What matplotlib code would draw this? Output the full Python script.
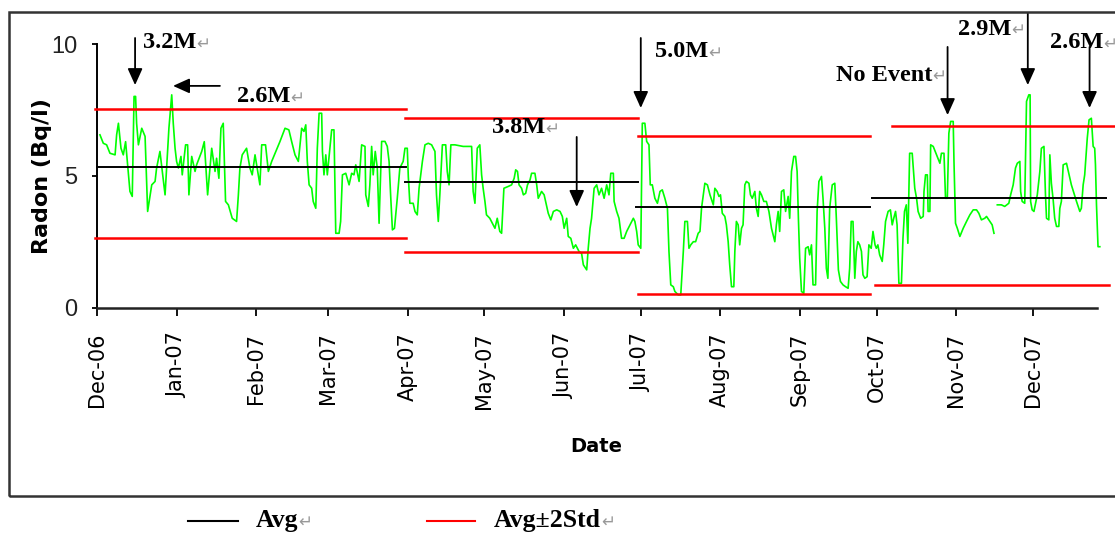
import matplotlib.pyplot as plt
import numpy as np
import pandas as pd
from matplotlib.lines import Line2D
from matplotlib.patches import Rectangle

START = pd.Timestamp("2006-12-01")

# radon readings, x = days since 1 Dec 2006, y = Bq/l
q1_days = [1.0, 2.3, 3.6, 4.9, 6.9, 7.5, 8.2, 9.2, 10.1, 11.0, 11.8, 12.7, 13.6, 14.3, 14.9,
           15.3, 16.0, 17.3, 18.6, 19.6, 21.2, 22.5, 23.1, 24.4, 26.4, 27.0, 27.9, 29.0, 29.6, 30.3,
           30.9, 31.6, 32.6, 33.1, 34.4, 35.2, 35.7, 36.8, 38.1, 38.7, 40.7, 41.7, 43.0, 44.6, 45.9,
           46.5, 47.4, 48.2, 49.1, 50.0, 51.1, 52.6, 54.3, 55.0, 55.6, 56.5, 58.2, 59.5, 60.4, 61.5,
           63.4, 64.1, 65.6, 66.7, 68.0, 71.2, 73.2, 74.7, 75.8, 77.1, 78.4,
           79.7, 80.6, 81.3, 81.9, 82.6, 83.6, 84.2, 85.2, 85.8, 86.5, 87.5, 87.8, 88.4, 89.1, 89.7,
           90.7, 91.4, 92.3, 93.0, 94.3, 94.9, 95.6, 96.9, 98.2, 99.2, 100.1, 100.8, 102.1, 103.1,
           104.4, 104.7, 105.7, 106.3, 107.0, 107.6, 108.4, 109.2, 109.9, 110.9, 112.2, 113.1, 113.8,
           114.4, 115.1, 115.9, 117.0, 118.0, 119.3]
q1_radon = [6.56, 6.24, 6.18, 5.86, 5.80, 6.56, 7.0, 6.05, 5.80, 6.3, 5.42, 4.41, 4.22, 8.02, 8.02,
            7.0, 6.18, 6.81, 6.5, 3.65, 4.66, 4.79, 5.3, 5.93, 4.28, 5.3, 6.81, 8.08, 7.0, 6.05,
            5.55, 5.3, 5.74, 5.04, 6.18, 6.18, 4.28, 5.74, 5.17, 5.42, 5.93, 6.3, 4.28, 6.05, 5.17,
            5.67, 4.91, 6.81, 7.0, 4.03, 3.9, 3.39, 3.27, 4.28, 5.3, 5.8, 6.05, 5.3, 5.04, 5.80,
            4.66, 6.18, 6.18, 5.17, 5.55, 6.3, 6.81, 6.75, 6.3, 5.80, 5.55,
            6.81, 6.69, 6.94, 5.55, 4.66, 4.53, 4.03, 3.77, 6.05, 7.38, 7.38, 5.93, 5.04, 5.80, 5.04,
            6.05, 6.75, 6.75, 2.82, 2.82, 3.27, 5.04, 5.10, 4.66, 5.10, 5.04, 5.42, 4.79, 6.18,
            6.12, 4.28, 3.84, 4.66, 6.12, 5.04, 5.93, 5.30, 3.20, 6.31, 6.31, 6.12, 5.55,
            4.28, 2.95, 3.01, 4.15, 5.30, 5.55]

q2_days = [120.0, 120.9, 121.3, 121.9, 123.2, 123.9, 124.8, 125.5, 126.8, 127.8, 129.1, 130.4,
           131.7, 132.3, 133.0, 133.6, 134.6, 135.9, 136.5, 137.2, 137.9, 139.5, 142.7, 146.0,
           146.6, 147.3, 148.2, 149.2, 149.9, 150.5, 151.2, 151.8, 153.1, 154.1, 155.1, 156.0,
           157.0, 157.7, 158.6, 160.3, 161.6, 162.6, 163.2, 163.9, 164.5, 165.5, 166.2, 167.1,
           167.8, 168.8, 169.4, 170.7, 171.4, 172.0, 173.3, 174.3, 175.3, 175.9, 176.9, 177.9,
           179.2, 180.5, 181.4, 182.1, 183.1, 183.7, 184.7, 185.7, 186.6, 187.9, 188.9, 189.6,
           190.9, 191.5, 192.2, 192.8, 193.8, 194.8, 195.7, 196.7, 197.7, 198.7, 199.6, 200.3,
           201.3, 201.6, 202.6, 203.5, 204.5, 205.5, 206.5, 207.8, 209.1, 209.7, 210.4, 211.0, 212.0]
q2_radon = [6.05, 6.05, 4.98, 3.96, 3.96, 3.65, 3.52, 4.53, 5.55, 6.18, 6.24, 6.18,
            5.93, 4.28, 3.27, 4.28, 6.18, 6.18, 5.17, 4.66, 6.18, 6.18, 6.12, 6.12,
            4.41, 3.96, 6.05, 6.18, 5.04, 4.53, 4.03, 3.52, 3.39, 3.20, 3.01, 3.39,
            2.89, 2.82, 4.53, 4.60, 4.66, 4.91, 5.23, 5.17, 4.66, 4.53, 4.28, 4.34,
            4.66, 4.85, 5.10, 5.10, 4.66, 4.15, 4.41, 4.28, 3.84, 3.58, 3.33, 3.65,
            3.71, 3.65, 3.46, 3.01, 3.39, 2.70, 2.63, 2.25, 2.38, 2.13, 2.06, 1.62,
            1.43, 2.25, 3.01, 3.39, 4.53, 4.66, 4.28, 4.53, 4.15, 4.66, 4.28, 5.10,
            5.10, 4.03, 3.65, 3.39, 2.63, 2.63, 2.89, 3.14, 3.39, 3.27, 2.89, 2.38, 2.25]

q3_days = [212.6, 213.6, 214.3, 215.2, 215.7, 216.5, 217.5, 218.5, 219.5, 220.4, 221.4, 222.4,
           223.0, 223.7, 224.7, 225.3, 226.6, 227.6, 228.6, 229.2, 230.2, 230.8, 231.5, 232.5,
           233.4, 234.4, 235.1, 235.7, 236.4, 237.0, 238.0, 239.0, 240.3, 240.9, 241.8, 242.5,
           243.1, 243.8, 244.8, 245.4, 246.1, 246.7, 247.4, 248.3, 248.7, 249.3, 250.0, 250.6,
           251.3, 251.9, 252.6, 253.2, 254.2, 254.8, 255.5, 256.5, 257.1, 257.8, 258.4, 259.1,
           260.0, 261.0, 262.0, 263.0, 264.3, 264.9, 265.6, 266.2, 266.9, 267.8, 268.5, 269.5,
           270.1, 270.8, 271.7, 272.4, 273.0, 273.5, 274.0, 274.7, 275.6, 276.3, 277.3, 277.9,
           278.6, 279.2, 280.2, 280.8, 281.5, 282.5, 283.1, 283.8, 284.4, 285.0, 285.7, 286.7,
           287.7, 288.3, 289.1, 289.9, 290.9, 291.9, 292.9, 293.5, 294.1, 294.8, 295.5, 296.1,
           296.7, 297.4, 298.1, 298.7, 299.4, 300.3, 301.0, 301.9, 302.6]
q3_radon = [7.0, 7.0, 6.31, 6.18, 4.66, 4.66, 4.15, 3.96, 4.41, 4.47, 4.15, 3.77,
            2.13, 0.86, 0.79, 0.61, 0.48, 0.48, 2.13, 3.27, 3.27, 2.25, 2.38, 2.50,
            2.50, 2.82, 2.89, 3.77, 4.28, 4.72, 4.66, 4.28, 3.90, 4.53, 4.41, 4.22,
            4.28, 3.58, 3.46, 3.14, 2.50, 1.62, 0.79, 0.79, 2.13, 3.27, 3.14, 2.38,
            3.01, 3.14, 4.66, 4.79, 4.72, 4.28, 4.15, 4.41, 3.77, 3.46, 4.41, 4.28,
            4.03, 4.03, 3.65, 3.01, 2.50, 3.14, 3.65, 2.89, 4.41, 4.47, 3.65, 4.22,
            3.39, 5.17, 5.74, 5.74, 5.17, 3.39, 1.87, 0.61, 0.54, 2.25, 2.31, 2.00,
            2.38, 0.86, 0.86, 3.65, 4.79, 4.98, 4.15, 3.01, 1.49, 1.11, 3.77, 4.66,
            4.72, 3.39, 1.43, 0.99, 0.86, 0.79, 0.73, 1.49, 3.27, 3.27, 1.11, 2.13,
            2.50, 2.38, 2.13, 1.24, 1.11, 1.17, 2.38, 2.25, 2.89]

q4_days = [303.4, 303.9, 304.5, 305.2, 306.2, 306.8, 307.5, 308.5, 309.4, 310.1, 310.7, 311.4,
           312.0, 312.7, 313.7, 314.3, 314.9, 315.6, 316.2, 316.9, 317.9, 318.9, 319.6, 320.2,
           321.2, 322.2, 322.5, 323.1, 323.8, 324.1, 324.8, 325.1, 326.1, 327.4, 328.7, 329.3,
           330.3, 330.9, 331.6, 332.2, 332.9, 333.9, 334.2, 334.8, 335.5, 336.5, 337.8, 339.1,
           340.4, 341.7, 343.0, 343.9, 344.9, 346.2, 346.9, 348.2, 349.1, 349.8, 350.4, 351.1,
           352.7, 354.0, 355.6, 356.3, 357.3, 358.2, 358.9, 359.9, 360.2, 360.8, 361.8, 362.5,
           363.4, 363.9, 364.1, 364.7, 365.4, 366.7, 367.7, 368.3, 369.3, 369.9, 370.3, 371.2,
           371.6, 372.2, 372.9, 373.5, 374.2, 375.1, 375.5, 376.1, 376.8, 378.1, 380.0, 382.0,
           383.3, 383.9, 384.6, 385.2, 386.2, 386.9, 387.8, 388.5, 389.1, 389.4, 389.8, 390.4, 391.1]
q4_radon = [2.38, 2.25, 2.38, 2.00, 1.75, 2.38, 3.27, 3.65, 3.71, 3.14, 3.39, 3.65,
            3.14, 0.92, 0.92, 2.63, 3.65, 3.90, 2.44, 5.86, 5.86, 4.53, 4.15, 3.65,
            3.39, 3.46, 4.41, 5.04, 5.04, 3.65, 3.65, 6.18, 6.12, 5.80, 5.48, 5.86,
            5.86, 4.15, 4.15, 6.62, 7.07, 7.07, 5.55, 3.20, 3.01, 2.70, 3.01, 3.27,
            3.52, 3.71, 3.71, 3.58, 3.33, 3.39, 3.46, 3.27, 3.14, 2.82, np.nan, 3.90,
            3.90, 3.84, 3.96, 4.28, 4.66, 5.30, 5.48, 5.55, 4.41, 4.03, 3.96, 7.83,
            8.08, 8.08, 4.03, 3.71, 3.65, 4.28, 5.17, 6.05, 6.12, 4.28, 3.39, 3.33,
            5.80, 4.72, 4.09, 3.39, 3.08, 3.08, 3.77, 4.03, 5.42, 5.48, 4.66, 4.03,
            3.65, 3.77, 4.66, 5.04, 6.43, 7.13, 7.19, 6.12, 6.05, 5.42, 3.90, 2.31, 2.31]

# quarterly mean and mean +/- 2 std
avg_start = [0, 120, 210.3, 302.4]
avg_end = [120.3, 210.8, 301.3, 393.4]
band_start = [-0.9, 120, 211, 303.3]
upper_start = [-0.9, 120, 211, 310.2]
band_end = [120.3, 211, 301.3, 394.5]
upper_end = [120.3, 211, 301.3, 397]
quarter_avg = [5.35, 4.76, 3.81, 4.17]
quarter_upper = [7.56, 7.19, 6.53, 6.90]
quarter_lower = [2.63, 2.12, 0.50, 0.87]

# earthquake markers (magnitude label, day, radon level at arrow tip)
event_labels = ["3.2M", "2.6M", "3.8M", "5.0M", "No Event", "2.9M", "2.6M"]
event_days = [14.7, 29.5, 187, 212, 331.7, 363, 387.1]
event_levels = [8.45, 8.42, 3.82, 7.58, 7.31, 8.45, 7.58]

months = pd.date_range("2006-12-01", "2007-12-01", freq="MS")

days = q1_days + q2_days + q3_days + q4_days
radon = q1_radon + q2_radon + q3_radon + q4_radon
assert len(days) == len(radon)

W, H = 1115, 535
fig = plt.figure(figsize=(W / 100, H / 100), dpi=100)
x0, x1, y0, y1 = 97.4, 1097, 307.5, 44.3
ax = fig.add_axes([x0 / W, (H - y0) / H, (x1 - x0) / W, (y0 - y1) / H])

ax.plot(days, radon, color="#00ff00", lw=1.2, clip_on=False, zorder=3)
for i in range(4):
    ax.plot([avg_start[i], avg_end[i]], [quarter_avg[i]] * 2, color="black", lw=1.4, clip_on=False, zorder=4)
    ax.plot([upper_start[i], upper_end[i]], [quarter_upper[i]] * 2, color="#ff0000", lw=1.8, clip_on=False, zorder=4)
    ax.plot([band_start[i], band_end[i]], [quarter_lower[i]] * 2, color="#ff0000", lw=1.8, clip_on=False, zorder=4)

ax.set_xlim(0, 390)
ax.set_ylim(0, 10)
ax.spines[["top", "right"]].set_visible(False)
ax.spines["left"].set_linewidth(1.4)
ax.spines["bottom"].set_linewidth(1.8)
ax.spines["bottom"].set_color("#222222")

ax.set_xticks([(m - START).days for m in months])
ax.set_xticklabels([m.strftime("%b-%y") for m in months], rotation=90, fontsize=15,
                   family="DejaVu Sans", va="top")
ax.tick_params(axis="x", direction="out", length=6, width=1.3, pad=12)
ax.set_yticks([0, 5, 10])
ax.set_yticklabels(["0", "5", "10"], fontsize=17, family="Liberation Sans", color="#222222")
ax.tick_params(axis="y", direction="out", length=3.5, width=1.3, pad=11)

ax.set_ylabel("Radon (Bq/l)", fontsize=16, fontweight="bold", family="DejaVu Sans")
ax.yaxis.set_label_coords(-0.045, 0.5)
fig.text(596 / W, 1 - 447 / H, "Date", ha="center", va="center", fontsize=14,
         fontweight="bold", family="DejaVu Sans")

MARK = "\u21b5"


def add_mark(txt, size):
    ax.annotate(MARK, xy=(1, 0.45), xycoords=txt, ha="left", va="center",
                fontsize=size, color="#999999", family="DejaVu Sans", annotation_clip=False)


# arrow start (day, level) and label anchor (day, level) for each event
arrow_from = [(14.7, 10.24), (47.8, 8.42), (187, 6.48), (212, 10.24), (331.7, 9.9), (363, 11.19), (387.1, 9.9)]
label_at = [(17.8, 10.05), (54.4, 8.0), (153.9, 6.82), (217.5, 9.71), (288, 8.83), (335.6, 10.58), (371.5, 10.05)]

for lab, d, lvl, src, pos in zip(event_labels, event_days, event_levels, arrow_from, label_at):
    ax.annotate("", xy=(d, lvl), xytext=src, annotation_clip=False,
                arrowprops=dict(arrowstyle="-|>,head_length=1.0,head_width=0.45", color="black",
                                lw=1.3, shrinkA=0, shrinkB=0, mutation_scale=10))
    t = ax.text(pos[0], pos[1], lab, ha="left", va="center", fontsize=17.5, fontweight="bold",
                family="Liberation Serif", clip_on=False, zorder=5)
    add_mark(t, 12)

# outer frame of the pasted chart
fig.patches.append(Rectangle((9 / W, 1 - 496 / H), 1.2, (496 - 12) / H, transform=fig.transFigure,
                             fill=False, edgecolor="#333333", lw=1.8))

# legend below the frame
ly = 1 - 521 / H
fig.add_artist(Line2D([188 / W, 238 / W], [ly, ly], color="black", lw=1.5))
fig.add_artist(Line2D([427 / W, 475 / W], [ly, ly], color="#ff0000", lw=1.5))
for lx, lab in [(256, "Avg"), (494, "Avg\u00b12Std")]:
    t = fig.text(lx / W, ly, lab, ha="left", va="center", fontsize=18.5, fontweight="bold",
                 family="Liberation Serif")
    add_mark(t, 12)

fig.savefig("out.png", dpi=100)
